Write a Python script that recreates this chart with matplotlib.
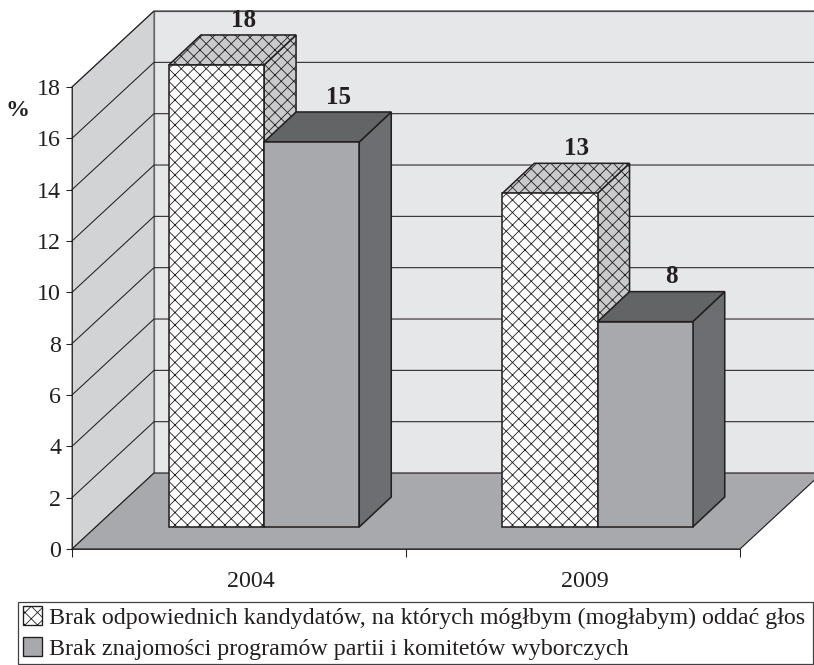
import matplotlib
matplotlib.use('Agg')
import matplotlib.pyplot as plt
from matplotlib.patches import Patch

years = ['2004', '2009']
kandydaci = [18, 13]
programy = [15, 8]
y_ticks = [0, 2, 4, 6, 8, 10, 12, 14, 16, 18]
legend_labels = ['Brak odpowiednich kandydatów, na których mógłbym (mogłabym) oddać głos',
                 'Brak znajomości programów partii i komitetów wyborczych']

plt.rcParams['font.family'] = ['Liberation Serif', 'DejaVu Serif']
plt.rcParams['hatch.linewidth'] = 0.8
plt.rcParams['hatch.color'] = '#231f20'

W, H = 814, 665
DPI = 75  # hatch tile follows dpi, 75 gives the right diamond size
fig = plt.figure(figsize=(W / DPI, H / DPI), dpi=DPI, facecolor='white')
ax = fig.add_axes([72 / W, 1 - 549 / H, 668 / W, 462 / H])
ax.set_xlim(0, 2)
ax.set_ylim(0, 18)

# 3d look, in data units
wall_dx, wall_dy = 0.2455, 2.96
bar_dx, bar_dy = 0.0958, 1.17
base = 0.857
bar_w = 0.285
first_left = 0.29
line = '#231f20'


def poly(xs, ys, z, **kw):
    ax.fill(xs, ys, zorder=z, clip_on=False, **kw)


def box(x, value, front, top, side, hatch, z):
    y0 = base
    y1 = base + value
    poly([x + bar_w, x + bar_w + bar_dx, x + bar_w + bar_dx, x + bar_w],
         [y0, y0 + bar_dy, y1 + bar_dy, y1], z, facecolor=side, edgecolor=line, lw=1.5, hatch=hatch)
    poly([x, x + bar_dx, x + bar_w + bar_dx, x + bar_w],
         [y1, y1 + bar_dy, y1 + bar_dy, y1], z, facecolor=top, edgecolor=line, lw=1.5, hatch=hatch)
    poly([x, x + bar_w, x + bar_w, x], [y0, y0, y1, y1], z, facecolor=front, edgecolor=line, lw=1.5, hatch=hatch)
    ax.text(x + bar_w / 2 + 0.08, y1 + 1.75, str(value), ha='center', va='center',
            fontsize=24, fontweight='bold', color=line, zorder=20)


# walls and floor
poly([wall_dx, 2 + wall_dx, 2 + wall_dx, wall_dx], [wall_dy, wall_dy, 18 + wall_dy, 18 + wall_dy], 1,
     facecolor='#e6e7e8', edgecolor='#808285', lw=1.3)
poly([0, wall_dx, wall_dx, 0], [0, wall_dy, 18 + wall_dy, 18], 1,
     facecolor='#d1d3d4', edgecolor='#58595b', lw=1.1)
poly([0, wall_dx, 2 + wall_dx, 2], [0, wall_dy, wall_dy, 0], 2,
     facecolor='#a7a9ac', edgecolor=line, lw=1.1)

for t in y_ticks[1:]:
    ax.plot([0, wall_dx, 2 + wall_dx], [t, t + wall_dy, t + wall_dy], color=line, lw=1.0, zorder=3, clip_on=False)

for i in range(len(years)):
    x = first_left + i * 0.9985
    box(x, kandydaci[i], 'white', '#c9cacc', '#c9cacc', 'xx', 5 + i * 2)
    box(x + bar_w, programy[i], '#a7a9ac', '#636466', '#6d6e71', None, 6 + i * 2)

for s in ['top', 'right']:
    ax.spines[s].set_visible(False)
ax.spines['left'].set_color(line)
ax.spines['bottom'].set_color(line)
ax.spines['left'].set_zorder(4)
ax.spines['bottom'].set_zorder(4)

ax.set_yticks(y_ticks)
ax.set_xticks([0, 1, 2])
ax.set_xticklabels(['', '', ''])
ax.set_xticks([0.536, 1.536], minor=True)
ax.set_xticklabels(years, minor=True)
ax.tick_params(axis='y', length=6, width=1, color=line, labelsize=23, labelcolor=line, pad=4.5)
ax.tick_params(axis='x', which='major', length=8, width=1, color=line)
ax.tick_params(axis='x', which='minor', length=0, labelsize=23, labelcolor=line, pad=21)

fig.text(18 / W, 1 - 111 / H, '%', fontsize=23, fontweight='bold', color=line, ha='center', va='center')

handles = [Patch(facecolor='white', edgecolor=line, hatch='xx', lw=1.3),
           Patch(facecolor='#a7a9ac', edgecolor=line, lw=1.3)]
leg = fig.legend(handles, legend_labels, loc='center left',
                 bbox_to_anchor=(18 / W, 1 / H, 795 / W, 62 / H), mode='expand',
                 fontsize=23, frameon=True, fancybox=False, edgecolor='#414042', framealpha=1,
                 handlelength=0.8, handleheight=0.8, handletextpad=0.3, labelspacing=0.35,
                 borderpad=0.2, borderaxespad=0, labelcolor=line)
leg.get_frame().set_linewidth(1.2)

fig.savefig('out.png', dpi=DPI)
